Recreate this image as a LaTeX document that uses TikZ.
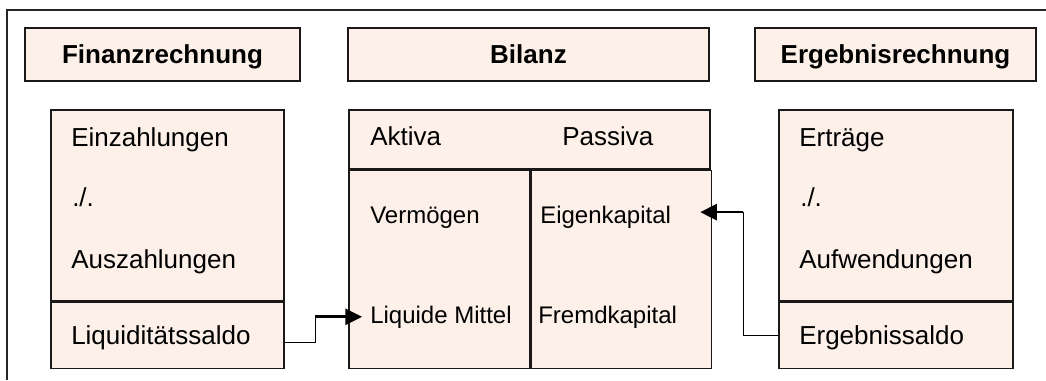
\documentclass[tikz,border=0pt]{standalone}
\usepackage{fontspec}
\setmainfont{Liberation Sans}
\usetikzlibrary{arrows.meta}
\definecolor{boxfill}{RGB}{252,240,232}
\begin{document}
\begin{tikzpicture}[x=0.75pt,y=-0.75pt,
  box/.style={draw=black!90,line width=1.2pt,fill=boxfill,inner sep=0pt,anchor=north west},
  headbox/.style={draw=black!90,line width=1.2pt,fill=boxfill,minimum height=39.75pt,
    text height=13.2pt,text depth=0pt,font=\fontsize{19.5}{22}\selectfont\bfseries},
  lbl/.style={anchor=base west,inner sep=0pt,font=\fontsize{19.5}{22}\selectfont},
  slbl/.style={anchor=base west,inner sep=0pt,font=\fontsize{18}{21}\selectfont},
  thinlink/.style={line width=0.8pt},
  thicklink/.style={line width=2pt,-{Triangle[length=12.5pt,width=12pt]}}]
\useasboundingbox (0,0) rectangle (1046,380);
\draw[line width=1.4pt,black!85] (7,380)--(7,10)--(1046,10);
% headers
\node[headbox,minimum width=206.25pt](fh) at (162.5,54.5){Finanzrechnung};
\node[headbox,minimum width=270.75pt](bh) at (528.5,54.5){Bilanz};
\node[headbox,minimum width=210.75pt](eh) at (895.5,54.5){Ergebnisrechnung};
% Finanzrechnung
\node[box,minimum width=174.75pt,minimum height=143.25pt](fu) at (50,109){};
\node[box,minimum width=174.75pt,minimum height=49.5pt](ls) at (fu.south west){};
\node[lbl](ez) at (71,146){Einzahlungen};
\node[lbl](fm) at (72,206){./.};
\node[lbl](az) at (71,268){Auszahlungen};
\node[lbl](lq) at (71,344){Liquiditätssaldo};
% Bilanz
\node[box,minimum width=270.75pt,minimum height=44.25pt](bt) at (348,109){};
\node[box,minimum width=135.75pt,minimum height=148.5pt](ba) at (bt.south west){};
\node[box,minimum width=135pt,minimum height=148.5pt](bp) at (ba.north east){};
\node[lbl](ak) at (370,145){Aktiva};
\node[lbl](pa) at (562,145){Passiva};
\node[slbl](vm) at (370,223){Vermögen};
\node[slbl](lm) at (370,323){Liquide Mittel};
\node[slbl](ek) at (540,223){Eigenkapital};
\node[slbl](fk) at (538,323){Fremdkapital};
% Ergebnisrechnung
\node[box,minimum width=175.5pt,minimum height=143.25pt](eu) at (778,109){};
\node[box,minimum width=175.5pt,minimum height=49.5pt](es) at (eu.south west){};
\node[lbl](et) at (799,146){Erträge};
\node[lbl](em) at (800,206){./.};
\node[lbl](aw) at (799,268){Aufwendungen};
\node[lbl](eg) at (799,344){Ergebnissaldo};
% connectors
\draw[thinlink]([yshift=-5pt]ls.east)--++(23pt,0)coordinate(ka)--(ka|-lm.west)coordinate(kb);
\draw[thicklink](kb)--([xshift=-6pt]lm.west);
\draw[thinlink](es.west)--++(-26pt,0)coordinate(kc)--([yshift=3.5pt]kc|-ek.west)coordinate(kd);
\draw[thicklink,shorten >=-9pt](kd)--(kd-|bp.east);
\end{tikzpicture}
\end{document}
